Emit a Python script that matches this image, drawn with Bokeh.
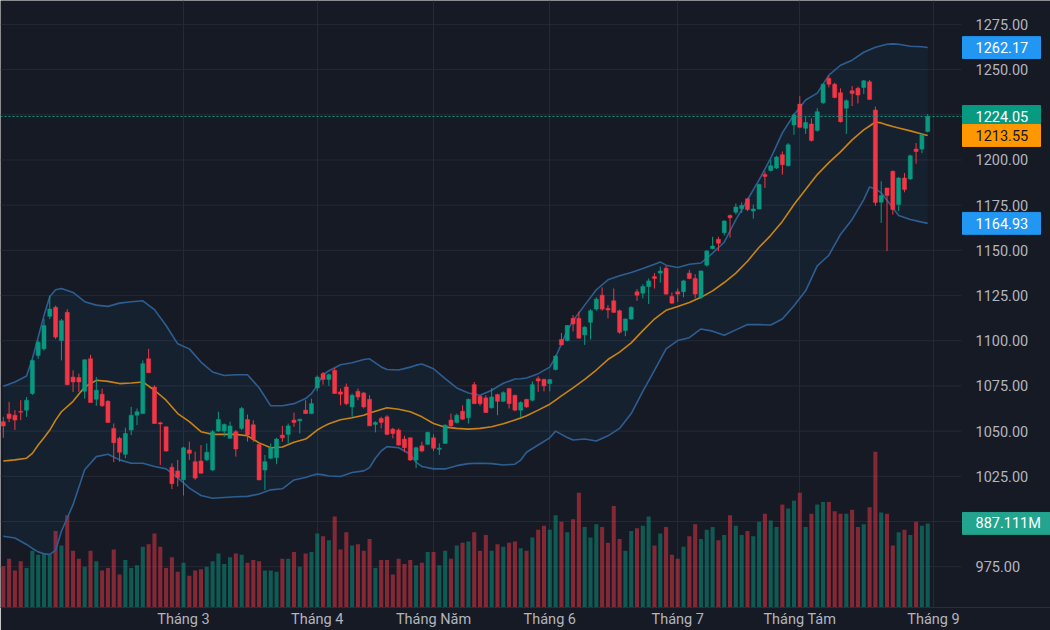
from bokeh.plotting import figure
from bokeh.models import Range1d, FixedTicker, ColumnDataSource
from bokeh.core.properties import value
from bokeh.embed import file_html
from bokeh.resources import INLINE

# ---------------- data ----------------
opens = [1055.2, 1059.5, 1058.8, 1060.9, 1061.6, 1070.8, 1091.9, 1095.5, 1113.5, 1118.5,
         1100.1, 1115.7, 1079.9, 1079.6, 1072.0, 1090.0, 1067.6, 1070.4, 1066.5, 1051.5,
         1046.0, 1037.2, 1050.6, 1058.8, 1059.7, 1090.0, 1074.4, 1054.6, 1052.4, 1030.0,
         1028.0, 1023.1, 1039.6, 1033.1, 1033.5, 1034.1, 1028.5, 1050.0, 1050.0, 1046.0,
         1049.7, 1051.5, 1056.4, 1053.5, 1042.7, 1028.5, 1035.0, 1035.3, 1047.8, 1048.2,
         1056.1, 1055.7, 1061.6, 1059.7, 1073.9, 1081.8, 1078.6, 1083.6, 1071.7, 1074.4,
         1063.4, 1072.0, 1071.1, 1067.6, 1053.7, 1057.0, 1057.9, 1051.1, 1050.6, 1045.6,
         1046.3, 1034.0, 1041.9, 1042.7, 1046.3, 1039.9, 1043.2, 1056.1, 1054.8, 1061.0,
         1057.4, 1075.7, 1069.3, 1068.4, 1062.9, 1070.2, 1066.5, 1073.5, 1069.8, 1061.6,
         1067.6, 1067.1, 1079.0, 1078.6, 1076.3, 1084.1, 1100.7, 1100.1, 1112.4, 1112.4,
         1103.2, 1110.2, 1117.5, 1125.2, 1117.9, 1122.1, 1116.6, 1105.6, 1112.0, 1127.1,
         1126.3, 1130.0, 1135.5, 1137.4, 1140.1, 1124.5, 1127.1, 1127.1, 1137.4, 1134.4,
         1124.0, 1141.8, 1150.9, 1156.1, 1159.7, 1169.3, 1171.1, 1173.0, 1178.5, 1171.7,
         1172.9, 1191.9, 1194.2, 1195.5, 1202.9, 1196.8, 1219.4, 1230.9, 1217.5, 1219.9,
         1216.3, 1231.7, 1245.1, 1241.9, 1237.2, 1228.6, 1238.3, 1239.6, 1240.1, 1243.2,
         1227.6, 1176.6, 1184.5, 1193.7, 1175.3, 1190.0, 1189.5, 1206.0, 1206.0, 1215.7]
highs = [1057.9, 1066.2, 1061.6, 1067.1, 1068.9, 1089.5, 1100.1, 1112.0, 1124.9, 1119.4,
         1112.0, 1117.5, 1083.6, 1081.8, 1089.5, 1092.2, 1079.9, 1073.5, 1067.1, 1054.2,
         1046.9, 1051.9, 1063.4, 1062.5, 1089.1, 1095.5, 1075.3, 1055.2, 1052.4, 1032.2,
         1034.1, 1041.4, 1044.2, 1038.6, 1042.3, 1043.2, 1050.6, 1060.7, 1054.2, 1055.2,
         1050.6, 1063.4, 1059.2, 1056.0, 1043.2, 1036.8, 1043.2, 1046.3, 1052.9, 1054.2,
         1060.3, 1056.8, 1067.1, 1068.0, 1080.8, 1082.7, 1081.8, 1084.9, 1073.5, 1076.3,
         1070.7, 1073.5, 1071.7, 1069.8, 1055.5, 1057.9, 1058.8, 1051.8, 1051.5, 1047.4,
         1046.5, 1041.4, 1044.1, 1049.7, 1048.2, 1043.2, 1053.7, 1059.7, 1059.7, 1064.3,
         1068.0, 1077.2, 1069.8, 1069.8, 1073.9, 1070.7, 1072.0, 1073.9, 1070.2, 1066.5,
         1067.8, 1077.5, 1080.3, 1079.0, 1078.7, 1092.2, 1104.3, 1108.7, 1114.2, 1116.1,
         1108.0, 1117.5, 1124.0, 1129.5, 1119.7, 1128.9, 1117.2, 1112.4, 1119.0, 1128.5,
         1131.3, 1134.4, 1137.4, 1141.0, 1141.4, 1126.7, 1128.9, 1133.7, 1139.2, 1136.8,
         1138.8, 1150.2, 1157.5, 1157.5, 1166.7, 1169.8, 1175.9, 1176.6, 1179.0, 1175.3,
         1186.9, 1193.7, 1200.1, 1202.3, 1204.7, 1209.3, 1225.8, 1235.3, 1223.6, 1223.0,
         1228.6, 1242.3, 1246.4, 1242.7, 1239.6, 1233.5, 1240.9, 1240.5, 1244.2, 1244.2,
         1229.5, 1188.2, 1184.5, 1194.2, 1190.6, 1192.8, 1202.9, 1209.3, 1214.8, 1225.4]
lows = [1046.3, 1055.0, 1050.6, 1056.1, 1057.9, 1070.0, 1090.0, 1094.6, 1112.0, 1101.0,
        1089.1, 1075.3, 1071.7, 1071.7, 1068.0, 1065.8, 1064.0, 1063.4, 1054.8, 1032.8,
        1033.1, 1035.0, 1047.8, 1053.3, 1059.7, 1082.3, 1054.2, 1031.3, 1038.6, 1017.9,
        1019.4, 1014.4, 1034.1, 1023.1, 1026.7, 1033.5, 1028.0, 1049.7, 1046.9, 1046.0,
        1035.9, 1050.6, 1044.2, 1044.0, 1023.0, 1017.5, 1034.4, 1031.7, 1044.1, 1043.2,
        1052.4, 1048.7, 1059.5, 1059.4, 1072.0, 1075.7, 1075.0, 1070.8, 1064.3, 1064.3,
        1057.9, 1067.1, 1062.5, 1052.9, 1049.3, 1051.5, 1047.8, 1046.0, 1041.9, 1038.3,
        1033.5, 1029.5, 1038.3, 1042.3, 1039.0, 1036.8, 1043.0, 1051.5, 1054.2, 1056.1,
        1054.2, 1065.0, 1064.0, 1060.0, 1062.5, 1058.8, 1066.2, 1062.5, 1061.0, 1057.9,
        1062.9, 1066.5, 1071.7, 1072.0, 1072.0, 1083.6, 1097.5, 1099.6, 1105.1, 1101.2,
        1097.7, 1100.7, 1116.6, 1116.6, 1112.4, 1115.3, 1103.8, 1102.5, 1111.7, 1122.1,
        1123.4, 1120.3, 1128.9, 1132.2, 1125.5, 1120.3, 1121.6, 1124.0, 1134.0, 1123.4,
        1123.0, 1141.0, 1150.6, 1149.6, 1158.3, 1157.0, 1169.8, 1170.7, 1171.7, 1167.5,
        1172.6, 1184.5, 1193.7, 1195.0, 1191.9, 1196.4, 1213.9, 1217.5, 1214.4, 1210.2,
        1215.7, 1230.9, 1240.1, 1234.1, 1220.7, 1214.4, 1229.8, 1231.3, 1236.5, 1233.3,
        1174.6, 1165.2, 1149.6, 1169.8, 1171.7, 1182.1, 1189.0, 1197.9, 1203.8, 1215.2]
closes = [1052.9, 1057.0, 1056.1, 1060.5, 1067.1, 1089.1, 1099.2, 1108.4, 1117.5, 1102.0,
          1111.1, 1075.7, 1077.2, 1077.2, 1089.5, 1065.8, 1072.6, 1064.0, 1054.8, 1043.6,
          1038.3, 1048.7, 1058.8, 1060.7, 1087.3, 1082.3, 1054.2, 1054.0, 1039.0, 1020.9,
          1024.3, 1040.8, 1037.7, 1024.0, 1026.7, 1038.3, 1049.7, 1056.4, 1053.7, 1052.9,
          1040.1, 1062.5, 1047.8, 1045.5, 1023.0, 1033.1, 1040.8, 1045.6, 1046.3, 1052.9,
          1054.8, 1056.6, 1059.7, 1065.2, 1079.9, 1078.6, 1081.2, 1070.8, 1070.4, 1065.2,
          1069.8, 1068.9, 1063.4, 1052.9, 1054.8, 1054.8, 1048.2, 1048.7, 1042.3, 1040.8,
          1034.0, 1040.8, 1039.0, 1049.3, 1040.5, 1040.6, 1053.3, 1052.9, 1058.8, 1056.6,
          1067.6, 1065.2, 1065.2, 1060.3, 1068.9, 1066.5, 1071.3, 1065.2, 1061.6, 1065.8,
          1063.4, 1075.7, 1077.7, 1075.0, 1078.5, 1091.5, 1097.7, 1108.4, 1109.3, 1101.4,
          1107.5, 1116.6, 1123.0, 1117.5, 1117.0, 1115.7, 1104.7, 1112.0, 1118.5, 1125.2,
          1130.0, 1133.1, 1134.4, 1138.6, 1125.8, 1120.8, 1125.8, 1133.1, 1134.4, 1125.8,
          1138.6, 1149.7, 1152.4, 1153.9, 1166.2, 1168.0, 1174.0, 1174.8, 1172.6, 1172.9,
          1186.4, 1190.9, 1196.8, 1201.6, 1197.4, 1208.4, 1224.9, 1218.1, 1220.7, 1210.8,
          1226.7, 1241.9, 1241.9, 1234.6, 1221.2, 1232.8, 1236.8, 1235.9, 1243.8, 1233.5,
          1176.5, 1180.3, 1180.3, 1172.6, 1190.0, 1183.6, 1202.3, 1204.7, 1213.9, 1224.05]
volumes_m = [435, 515, 390, 487, 418, 598, 557, 574, 557, 807,
             654, 974, 598, 515, 431, 598, 487, 390, 418, 612,
             348, 501, 418, 446, 640, 668, 780, 640, 418, 529,
             376, 473, 334, 390, 404, 431, 487, 571, 459, 529,
             571, 557, 473, 501, 487, 390, 390, 376, 515, 515,
             585, 431, 571, 585, 780, 752, 710, 960, 612, 793,
             654, 668, 598, 724, 418, 501, 501, 348, 515, 459,
             501, 446, 473, 585, 585, 446, 598, 515, 654, 682,
             696, 793, 598, 765, 598, 668, 640, 682, 696, 626,
             598, 738, 821, 863, 821, 974, 905, 793, 932, 1211,
             849, 738, 877, 849, 682, 1072, 724, 598, 807, 835,
             863, 960, 654, 780, 849, 557, 515, 640, 752, 877,
             724, 821, 849, 710, 765, 974, 863, 765, 807, 752,
             905, 988, 919, 849, 1086, 1044, 1128, 1211, 849, 988,
             1086, 1114, 1114, 1016, 988, 988, 1030, 849, 877, 1058,
             1642, 1002, 988, 654, 793, 821, 765, 905, 863, 887.111]
candle_idx = list(range(len(closes)))

# Bollinger Bands (20, 2), at these candle positions
bb_idx = [0, 2, 4, 5, 6, 7, 8, 9, 10, 12, 14, 16, 18, 20, 22, 24, 26, 28, 30, 32,
          34, 36, 38, 40, 42, 44, 46, 48, 50, 52, 53, 54, 55, 56, 58, 60, 62, 63, 64, 65,
          66, 68, 70, 71, 72, 74, 76, 78, 80, 82, 84, 86, 88, 89, 90, 92, 94, 95, 96, 97,
          98, 100, 102, 104, 106, 108, 110, 112, 113, 114, 116, 118, 120, 122, 124, 126, 128, 130, 132, 134,
          135, 136, 138, 140, 142, 144, 146, 148, 149, 150, 151, 152, 153, 154, 156, 158, 159]
bb_upper = [1074.8, 1077.2, 1080.5, 1090.0, 1101.9, 1113.9, 1124.5, 1128.2, 1128.9, 1126.7,
            1121.6, 1119.7, 1119.0, 1120.8, 1121.6, 1122.1, 1117.2, 1108.4, 1098.3, 1095.5,
            1088.2, 1082.7, 1080.8, 1081.2, 1081.2, 1074.0, 1064.0, 1064.0, 1065.2, 1068.0,
            1070.7, 1075.3, 1081.2, 1083.4, 1086.7, 1087.8, 1089.6, 1090.0, 1087.8, 1085.5,
            1084.1, 1083.8, 1085.4, 1086.5, 1087.1, 1084.5, 1079.0, 1073.9, 1071.1, 1069.8,
            1072.6, 1076.5, 1078.8, 1079.0, 1079.4, 1081.8, 1085.4, 1091.0, 1098.3, 1105.6,
            1111.1, 1119.7, 1128.2, 1133.7, 1135.9, 1137.7, 1139.9, 1142.3, 1143.6, 1141.8,
            1140.5, 1142.3, 1143.0, 1148.5, 1154.5, 1167.0, 1178.0, 1189.0, 1201.0, 1215.0,
            1220.0, 1225.0, 1233.2, 1237.0, 1246.9, 1252.4, 1255.2, 1259.6, 1261.0, 1262.3,
            1263.2, 1264.0, 1264.2, 1264.0, 1262.9, 1262.6, 1262.17]
bb_basis = [1033.5, 1034.1, 1035.0, 1037.7, 1042.3, 1046.3, 1050.6, 1056.1, 1060.7, 1066.5,
            1074.4, 1078.1, 1077.5, 1076.3, 1076.6, 1077.2, 1072.6, 1067.1, 1059.7, 1055.2,
            1049.7, 1048.2, 1048.2, 1048.2, 1047.4, 1043.5, 1040.8, 1041.2, 1043.8, 1045.6,
            1048.0, 1050.6, 1052.5, 1054.1, 1056.3, 1057.4, 1058.8, 1060.0, 1061.0, 1062.0,
            1062.9, 1062.1, 1060.7, 1059.3, 1057.9, 1054.2, 1052.2, 1051.5, 1051.1, 1051.5,
            1052.4, 1054.1, 1056.1, 1057.3, 1058.5, 1061.6, 1064.9, 1067.2, 1069.5, 1071.7,
            1073.9, 1078.6, 1083.8, 1089.6, 1093.7, 1098.8, 1105.6, 1112.0, 1114.4, 1116.8,
            1119.0, 1121.2, 1124.0, 1127.6, 1132.2, 1137.4, 1144.0, 1151.7, 1158.3, 1166.0,
            1170.7, 1175.4, 1183.6, 1191.9, 1198.5, 1204.5, 1211.1, 1216.6, 1218.8, 1221.0,
            1220.5, 1219.4, 1218.5, 1217.7, 1216.1, 1214.4, 1213.55]
bb_lower = [991.8, 990.9, 987.3, 985.1, 983.2, 982.1, 981.8, 984.0, 994.6, 1009.3,
            1028.6, 1035.9, 1037.2, 1034.1, 1032.2, 1032.2, 1030.4, 1029.1, 1024.3, 1018.5,
            1014.4, 1012.9, 1013.3, 1013.7, 1013.9, 1015.2, 1017.5, 1018.1, 1023.0, 1024.3,
            1025.5, 1026.2, 1025.8, 1025.2, 1024.9, 1027.1, 1028.0, 1029.8, 1035.0, 1039.0,
            1041.4, 1040.8, 1037.2, 1032.8, 1030.4, 1029.1, 1029.1, 1030.9, 1032.0, 1032.2,
            1032.0, 1031.3, 1031.7, 1034.0, 1038.3, 1042.3, 1046.3, 1050.0, 1048.2, 1046.5,
            1045.1, 1045.6, 1044.5, 1047.4, 1051.5, 1059.7, 1072.0, 1083.6, 1089.5, 1095.5,
            1100.1, 1101.7, 1106.5, 1105.3, 1103.0, 1106.0, 1109.0, 1108.9, 1108.7, 1112.0,
            1115.7, 1119.4, 1127.6, 1141.4, 1147.3, 1158.8, 1167.1, 1178.1, 1185.1, 1184.0,
            1181.8, 1177.7, 1173.5, 1169.3, 1167.1, 1165.6, 1164.93]

month_tick_idx = [31, 54, 74, 94, 116, 137, 160]
month_labels = ["Tháng 3", "Tháng 4", "Tháng Năm", "Tháng 6", "Tháng 7", "Tháng Tám", "Tháng 9"]
price_ticks = [975, 1000, 1025, 1050, 1075, 1100, 1125, 1150, 1175, 1200, 1225, 1250, 1275]

# ---------------- style / layout ----------------
BG = "#161a25"
GRID = "#252936"
TXT = "#b2b5be"
UP = "#089981"
DOWN = "#f23645"
FONT = "Roboto"
FS = "14.5px"

W, H = 1050, 630
BOTTOM = 20                      # height of the time scale
PX_PER_BAR = 5.814               # bar spacing in pixels
X0 = -0.48                       # bar index at the left edge
SCALE_PX = 961                   # where the price scale begins
Y_TOP, Y_BOT = 1288.21, 952.43   # price range of the pane
VOL_MAX = 6404                   # volume range (M) of the pane

def bar_at(px):
    return X0 + px / PX_PER_BAR

x_end = bar_at(W)
x_plot_end = bar_at(SCALE_PX)
price_per_px = (Y_TOP - Y_BOT) / (H - BOTTOM)
vol_per_px = VOL_MAX / (H - BOTTOM)

up_flags = [c >= o for o, c in zip(opens, closes)]
colors = [UP if u else DOWN for u in up_flags]
src = ColumnDataSource(dict(
    x=candle_idx, open=opens, high=highs, low=lows, close=closes,
    top=[max(o, c) for o, c in zip(opens, closes)],
    bottom=[min(o, c) for o, c in zip(opens, closes)],
    vol=volumes_m, color=colors,
))

p = figure(width=W, height=H, output_backend="svg", toolbar_location=None,
           x_range=Range1d(X0, x_end), y_range=Range1d(Y_BOT, Y_TOP),
           y_axis_location=None,
           min_border_left=0, min_border_top=0, min_border_right=0, min_border_bottom=BOTTOM,
           background_fill_color=BG, border_fill_color=BG, outline_line_color=None)
p.extra_y_ranges = {"vol": Range1d(0, VOL_MAX)}

# time scale
xa = p.xaxis[0]
xa.ticker = FixedTicker(ticks=month_tick_idx)
xa.major_label_overrides = {t: s for t, s in zip(month_tick_idx, month_labels)}
xa.axis_line_color = "#2a2e39"
xa.major_tick_line_color = None
xa.minor_tick_line_color = None
xa.major_tick_out = 0
xa.major_label_standoff = 3
xa.major_label_text_color = TXT
xa.major_label_text_font = FONT
xa.major_label_text_font_size = FS

p.xgrid.grid_line_color = GRID
p.ygrid.grid_line_color = None

# horizontal grid lines (stop at the price scale)
n = len(price_ticks)
p.segment(x0=[X0] * n, x1=[x_plot_end] * n, y0=price_ticks, y1=price_ticks,
          line_color=GRID, line_width=1)

# volume
p.vbar(x="x", top="vol", bottom=0, width=0.7, source=src, y_range_name="vol",
       fill_color="color", fill_alpha=0.5, line_color=None)

# Bollinger bands
p.varea(x=bb_idx, y1=bb_lower, y2=bb_upper, fill_color="#2196f3", fill_alpha=0.06)
p.line(bb_idx, bb_upper, line_color="#2d5e91", line_width=1.6)
p.line(bb_idx, bb_lower, line_color="#2d5e91", line_width=1.6)
p.line(bb_idx, bb_basis, line_color="#c98314", line_width=1.6)

# candles
p.segment(x0="x", y0="high", x1="x", y1="low", source=src, line_color="color", line_width=1)
p.vbar(x="x", top="top", bottom="bottom", width=0.7, source=src,
       fill_color="color", line_color="color", line_width=0.5)

# last price line
p.segment(x0=[X0], x1=[x_plot_end], y0=[closes[-1]], y1=[closes[-1]],
          line_color=UP, line_dash="2 2", line_width=1)

# price scale labels
label_x = bar_at(975)
p.text(x=[label_x] * n, y=price_ticks, text=[f"{t:.2f}" for t in price_ticks],
       text_color=TXT, text_font=value(FONT), text_font_size=value(FS),
       text_align="left", text_baseline="middle")

# coloured value tags on the price scale
tag_left = bar_at(SCALE_PX + 1)
tag_right = bar_at(1040)
half_px = 11

def tag(yval, text, bg, fg, rng=None, right=tag_right):
    per_px = vol_per_px if rng else price_per_px
    kw = {"y_range_name": rng} if rng else {}
    p.quad(left=[tag_left], right=[right], top=[yval + half_px * per_px],
           bottom=[yval - half_px * per_px], fill_color=bg, line_color=bg,
           line_width=1, **kw)
    p.text(x=[label_x], y=[yval], text=[text], text_color=fg,
           text_font=value(FONT), text_font_size=value(FS),
           text_align="left", text_baseline="middle", **kw)

tag(bb_upper[-1], f"{bb_upper[-1]:.2f}", "#2196f3", "#ffffff")
tag(closes[-1], f"{closes[-1]:.2f}", UP, "#ffffff")
tag(bb_basis[-1], f"{bb_basis[-1]:.2f}", "#ff9800", "#131722")
tag(bb_lower[-1], f"{bb_lower[-1]:.2f}", "#2196f3", "#ffffff")
tag(volumes_m[-1], f"{volumes_m[-1]:.3f}M", "#22a48e", "#ffffff", rng="vol", right=x_end + 1)

open("out.html", "w").write(file_html(p, INLINE))
